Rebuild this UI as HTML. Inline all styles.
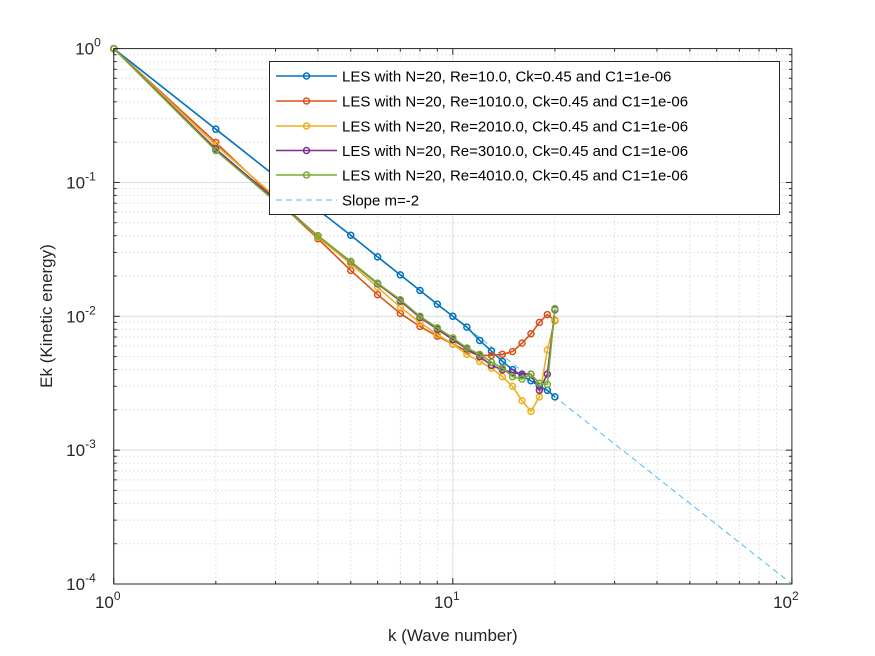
<!DOCTYPE html>
<html><head><meta charset="utf-8"><style>
body{margin:0;background:#fff}
svg{display:block;font-family:"Liberation Sans",Arial,sans-serif}
</style></head><body>
<svg id="chart" width="875" height="656" viewBox="0 0 875 656" xmlns="http://www.w3.org/2000/svg">
<rect width="875" height="656" fill="#fff"/>
<g id="grid"></g>
<g id="series"></g>
<g id="axes"></g>
<g id="legend"></g>
</svg>
<script>
const ks=[1,2,3,4,5,6,7,8,9,10,11,12,13,14,15,16,17,18,19,20];
const seriesNames=["LES with N=20, Re=10.0, Ck=0.45 and C1=1e-06","LES with N=20, Re=1010.0, Ck=0.45 and C1=1e-06","LES with N=20, Re=2010.0, Ck=0.45 and C1=1e-06","LES with N=20, Re=3010.0, Ck=0.45 and C1=1e-06","LES with N=20, Re=4010.0, Ck=0.45 and C1=1e-06"];
const ekRe10=[1,0.25,0.111,0.0625,0.0403,0.0278,0.0204,0.0156,0.0123,0.01,0.0083,0.0066,0.0055,0.0046,0.0040,0.0036,0.0033,0.0030,0.0028,0.0025];
const ekRe1010=[1,0.199,0.075,0.038,0.022,0.0145,0.0105,0.0084,0.0071,0.0062,0.0055,0.0051,0.0051,0.0052,0.00545,0.0063,0.0074,0.0090,0.0103,0.0093];
const ekRe2010=[1,0.19,0.078,0.039,0.0247,0.0165,0.0117,0.0090,0.0073,0.0062,0.0052,0.0046,0.0041,0.00354,0.0030,0.00234,0.00195,0.0025,0.0056,0.0094];
const ekRe3010=[1,0.178,0.074,0.040,0.0255,0.0175,0.0130,0.0098,0.0080,0.0067,0.0057,0.0050,0.0043,0.00398,0.0038,0.0037,0.0037,0.0028,0.0037,0.0112];
const ekRe4010=[1,0.173,0.072,0.040,0.0257,0.0177,0.0133,0.0100,0.0082,0.0069,0.0058,0.0052,0.00454,0.0041,0.00354,0.0034,0.0037,0.00316,0.0031,0.0114];
const allSeries=[ekRe10,ekRe1010,ekRe2010,ekRe3010,ekRe4010];
const colors=["#0072BD","#D95319","#EDB120","#7E2F8E","#77AC30"];
const slopeK=[1,100];
const slopeE=[1,0.0001];
const xTickExp=[0,1,2];
const yTickExp=[0,-1,-2,-3,-4];

const L=113.75,R=791.9,T=48.6,B=584;
const X=k=>L+(Math.log10(k)-0)/2*(R-L);
const Y=e=>T+(0-Math.log10(e))/4*(B-T);
const NS="http://www.w3.org/2000/svg";
function mk(tag,attrs,parent){const el=document.createElementNS(NS,tag);for(const a in attrs)el.setAttribute(a,attrs[a]);parent.appendChild(el);return el;}
const grid=document.getElementById('grid'),axes=document.getElementById('axes'),ser=document.getElementById('series'),leg=document.getElementById('legend');
for(let d=0;d<2;d++)for(let m=1;m<=9;m++){const k=m*Math.pow(10,d);const x=X(k);
 const g=mk('line',{x1:x,x2:x,y1:T,y2:B,stroke:m===1?'#dcdcdc':'#c8c8c8','stroke-width':1,'stroke-dasharray':m===1?'':'1,3'},grid);
 
 }
for(let d=-4;d<0;d++)for(let m=1;m<=9;m++){const e=m*Math.pow(10,d);const y=Y(e);
 const g=mk('line',{x1:L,x2:R,y1:y,y2:y,stroke:m===1?'#dcdcdc':'#c8c8c8','stroke-width':1,'stroke-dasharray':m===1?'':'1,3'},grid);
 
 }
const sl=mk('polyline',{points:slopeK.map((k,i)=>X(k)+','+Y(slopeE[i])).join(' '),fill:'none',stroke:'#4DBEEE','stroke-width':1,'stroke-dasharray':'6,4'},ser);


allSeries.forEach((s,i)=>{const g=mk('g',{},ser);
 
 
 mk('polyline',{points:s.map((e,j)=>X(ks[j])+','+Y(e)).join(' '),fill:'none',stroke:colors[i],'stroke-width':1.6},g);
 s.forEach((e,j)=>{const c=mk('circle',{cx:X(ks[j]),cy:Y(e),r:3,fill:'none',stroke:colors[i],'stroke-width':1.5},g);
  
  });
});
const box=mk('rect',{x:L,y:T,width:R-L,height:B-T,fill:'none',stroke:'#262626','stroke-width':1},axes);


for(let d=0;d<2;d++)for(let m=1;m<=9;m++){const x=X(m*Math.pow(10,d));const len=m===1?6:3;
 mk('line',{x1:x,x2:x,y1:B,y2:B-len,stroke:'#262626'},axes);mk('line',{x1:x,x2:x,y1:T,y2:T+len,stroke:'#262626'},axes);}
mk('line',{x1:R,x2:R,y1:B,y2:B-6,stroke:'#262626'},axes);
for(let d=-4;d<0;d++)for(let m=1;m<=9;m++){const y=Y(m*Math.pow(10,d));const len=m===1?6:3;
 mk('line',{x1:L,x2:L+len,y1:y,y2:y,stroke:'#262626'},axes);mk('line',{x1:R,x2:R-len,y1:y,y2:y,stroke:'#262626'},axes);}
mk('line',{x1:L,x2:L+6,y1:T,y2:T,stroke:'#262626'},axes);
xTickExp.forEach(p=>{const t=mk('text',{x:X(Math.pow(10,p))-6,y:B+24,'font-size':17,fill:'#262626','text-anchor':'middle'},axes);
 
 
 t.innerHTML='10<tspan font-size="12" dy="-8">'+p+'</tspan>';});
yTickExp.forEach(p=>{const t=mk('text',{x:L-8,y:Y(Math.pow(10,p))+6,'font-size':17,fill:'#262626','text-anchor':'end'},axes);
 
 
 t.innerHTML='10<tspan font-size="12" dy="-8">'+p+'</tspan>';
 t.setAttribute('x',L-6-(p<0?12:7));
});
const xl=mk('text',{x:(L+R)/2,y:641,'font-size':17,fill:'#262626','text-anchor':'middle'},axes);xl.textContent='k (Wave number)';


const yl=mk('text',{x:0,y:0,'font-size':17,fill:'#262626','text-anchor':'middle',transform:'translate(52,316) rotate(-90)'},axes);yl.textContent='Ek (Kinetic energy)';


const lb=mk('rect',{x:269.5,y:61.5,width:510,height:153,fill:'#fff',stroke:'#262626','stroke-width':1},leg);


const rowsY=[76,101,126,150.5,175,200];
seriesNames.forEach((n,i)=>{const g=mk('g',{},leg);
 
 
 mk('line',{x1:276,x2:337,y1:rowsY[i],y2:rowsY[i],stroke:colors[i],'stroke-width':1.6},g);
 mk('circle',{cx:306.5,cy:rowsY[i],r:3,fill:'none',stroke:colors[i],'stroke-width':1.5},g);
 const t=mk('text',{x:342,y:rowsY[i]+5.5,'font-size':15,fill:'#000'},g);t.textContent=n;});
const g5=mk('g',{},leg);


mk('line',{x1:276,x2:337,y1:rowsY[5],y2:rowsY[5],stroke:'#4DBEEE','stroke-width':1,'stroke-dasharray':'6,4'},g5);
const st=mk('text',{x:342,y:rowsY[5]+5.5,'font-size':15,fill:'#000'},g5);st.textContent='Slope m=-2';
</script>
</body></html>
